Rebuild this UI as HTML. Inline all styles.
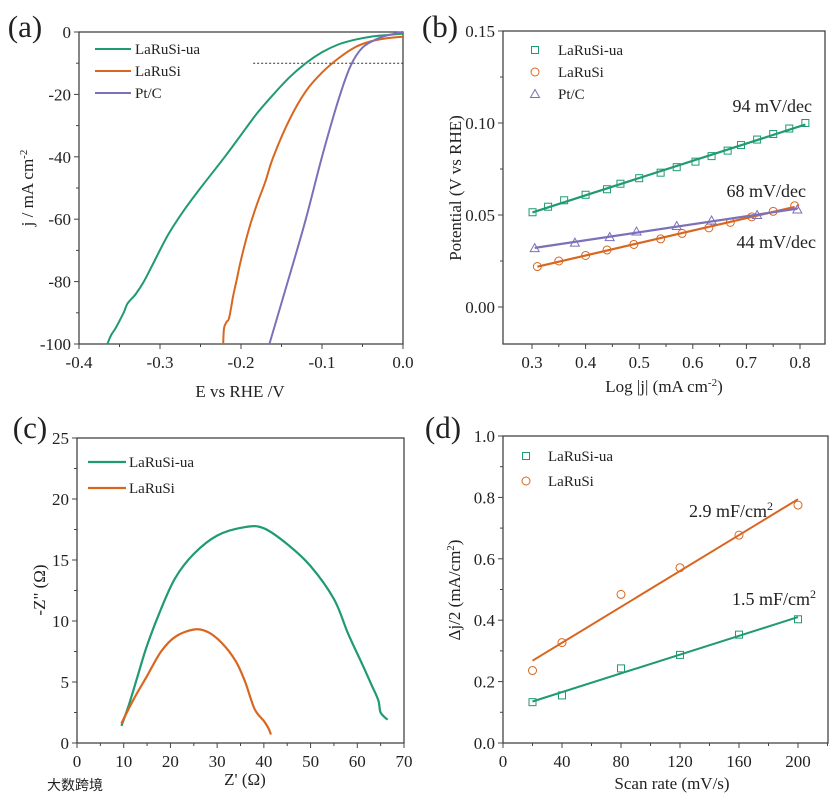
<!DOCTYPE html>
<html><head><meta charset="utf-8"><style>
body{margin:0;background:#fff;}
svg text{font-family:"Liberation Serif",serif;fill:#222;}
</style></head><body>
<svg id="s" width="839" height="800" xmlns="http://www.w3.org/2000/svg"></svg>
<script>
const GREEN='#1f9a72',ORANGE='#d9661f',PURPLE='#7d70b8';
// (a) LSV
const aE_ua=[-0.365,-0.36,-0.355,-0.345,-0.34,-0.33,-0.32,-0.31,-0.29,-0.27,-0.25,-0.22,-0.2,-0.18,-0.16,-0.14,-0.12,-0.1,-0.08,-0.06,-0.04,-0.02,0];
const aJ_ua=[-100,-97,-95,-90,-87,-84,-80,-75,-65,-57,-50,-40,-33,-26,-20,-14.5,-10,-6.5,-4,-2.5,-1.5,-1,-0.5];
const aE_si=[-0.222,-0.221,-0.218,-0.215,-0.212,-0.21,-0.205,-0.2,-0.19,-0.18,-0.17,-0.16,-0.14,-0.12,-0.1,-0.08,-0.06,-0.04,-0.02,0];
const aJ_si=[-100,-95,-93,-92,-88,-85,-79,-73,-63,-55,-48,-40,-28,-19,-13,-8.5,-5,-3,-2,-1.5];
const aE_pt=[-0.165,-0.14,-0.12,-0.1,-0.08,-0.065,-0.05,-0.03,-0.01,0];
const aJ_pt=[-100,-78,-60,-40,-22,-11,-5,-2,-0.5,0];
// (b) Tafel
const bX_ua=[0.301,0.33,0.36,0.4,0.44,0.465,0.5,0.54,0.57,0.605,0.635,0.665,0.69,0.72,0.75,0.78,0.81];
const bY_ua=[0.0515,0.0545,0.058,0.061,0.064,0.067,0.07,0.073,0.076,0.079,0.082,0.085,0.088,0.091,0.094,0.097,0.1];
const bX_si=[0.31,0.35,0.4,0.44,0.49,0.54,0.58,0.63,0.67,0.71,0.75,0.79];
const bY_si=[0.022,0.025,0.028,0.031,0.034,0.037,0.040,0.043,0.046,0.049,0.052,0.055];
const bX_pt=[0.305,0.38,0.445,0.495,0.57,0.635,0.72,0.795];
const bY_pt=[0.032,0.035,0.038,0.041,0.044,0.047,0.050,0.053];
// (c) EIS
const cX_ua=[9.5,11,13,15,18,21,25,30,36,40,45,50,55,58,61,63,64.5,65,66.5];
const cY_ua=[1.4,3,5.5,8,11,13.5,15.5,17,17.7,17.6,16.3,14.5,11.8,9,6.5,4.8,3.5,2.5,1.9];
const cX_si=[9.5,12,15,18,21,25,28,31,34,36,38,40,41,41.5];
const cY_si=[1.6,3.5,5.5,7.5,8.7,9.3,9.1,8.2,6.7,5,2.8,1.8,1.2,0.7];
// (d) Cdl
const dX=[20,40,80,120,160,200];
const dY_ua=[0.133,0.155,0.243,0.287,0.353,0.403];
const dY_si=[0.236,0.327,0.484,0.571,0.677,0.775];

const S=document.getElementById('s');const NS='http://www.w3.org/2000/svg';
function el(t,a,p){const e=document.createElementNS(NS,t);for(const k in a)e.setAttribute(k,a[k]);(p||S).appendChild(e);return e;}
function txt(x,y,s,o,p){const e=el('text',Object.assign({x:x,y:y,'font-size':17,'text-anchor':'middle'},o||{}),p);e.innerHTML=s;return e;}
function lin(d0,d1,r0,r1){return v=>r0+(v-d0)*(r1-r0)/(d1-d0);}
function fit(xs,ys){const n=xs.length;let mx=0,my=0;for(let i=0;i<n;i++){mx+=xs[i];my+=ys[i];}mx/=n;my/=n;let a=0,b=0;for(let i=0;i<n;i++){a+=(xs[i]-mx)*(ys[i]-my);b+=(xs[i]-mx)**2;}const k=a/b;return x=>my+k*(x-mx);}
function panel(name,L,R,T,B,X,Y,xt,yt,xminor,yminor,xfmt,yfmt){
  const g=el('g',{});  
  el('rect',{x:L,y:T,width:R-L,height:B-T,fill:'none',stroke:'#444','stroke-width':1.3},g);
  xt.forEach(v=>{el('line',{x1:X(v),x2:X(v),y1:B,y2:B+5,stroke:'#444'},g);txt(X(v),B+24,xfmt(v),{},g);});
  xminor.forEach(v=>el('line',{x1:X(v),x2:X(v),y1:B,y2:B+3,stroke:'#444'},g));
  yt.forEach(v=>{el('line',{x1:L-5,x2:L,y1:Y(v),y2:Y(v),stroke:'#444'},g);txt(L-8,Y(v)+6,yfmt(v),{'text-anchor':'end'},g);});
  yminor.forEach(v=>el('line',{x1:L-3,x2:L,y1:Y(v),y2:Y(v),stroke:'#444'},g));
  return g;}
function path(g,xs,ys,X,Y,c,w,name,smooth){
  const P=xs.map((x,i)=>[X(x),Y(ys[i])]);let d='M'+P[0][0].toFixed(1)+','+P[0][1].toFixed(1);
  for(let i=1;i<P.length;i++){
    if(smooth){const p0=P[Math.max(0,i-2)],p1=P[i-1],p2=P[i],p3=P[Math.min(P.length-1,i+1)];
      const c1=[p1[0]+(p2[0]-p0[0])/6,p1[1]+(p2[1]-p0[1])/6],c2=[p2[0]-(p3[0]-p1[0])/6,p2[1]-(p3[1]-p1[1])/6];
      d+=`C${c1[0].toFixed(1)},${c1[1].toFixed(1)} ${c2[0].toFixed(1)},${c2[1].toFixed(1)} ${p2[0].toFixed(1)},${p2[1].toFixed(1)}`;}
    else d+='L'+P[i][0].toFixed(1)+','+P[i][1].toFixed(1);}
  const p=el('path',{d:d,fill:'none',stroke:c,'stroke-width':w||2,'stroke-linejoin':'round'},g);return p;}
function marker(g,type,x,y,c){let m;if(type==='sq')m=el('rect',{x:x-3.5,y:y-3.5,width:7,height:7,fill:'none',stroke:c,'stroke-width':1},g);
 else if(type==='ci')m=el('circle',{cx:x,cy:y,r:4,fill:'none',stroke:c,'stroke-width':1},g);
 else m=el('path',{d:`M${x},${y-4.5}L${x+4.5},${y+3.5}L${x-4.5},${y+3.5}Z`,fill:'none',stroke:c,'stroke-width':1},g);
 return m;}
const r=(a,b,s)=>{const o=[];for(let v=a;v<=b+1e-9;v+=s)o.push(+v.toFixed(4));return o;};

// Panel a
{const X=lin(-0.4,0,79,403),Y=lin(0,-100,32,344);
const g=panel('panel-a-lsv',79,403,32,344,X,Y,[-0.4,-0.3,-0.2,-0.1,0],[0,-20,-40,-60,-80,-100],r(-0.35,-0.05,0.1),r(-90,-10,20),v=>v.toFixed(1),v=>v);
el('line',{x1:X(-0.185),x2:X(0),y1:Y(-10),y2:Y(-10),stroke:'#333','stroke-dasharray':'2,2','stroke-width':1},g);
path(g,aE_ua,aJ_ua,X,Y,GREEN,2,'lsv-larusi-ua',true);path(g,aE_si,aJ_si,X,Y,ORANGE,2,'lsv-larusi',true);path(g,aE_pt,aJ_pt,X,Y,PURPLE,2,'lsv-ptc',true);
[['LaRuSi-ua',GREEN],['LaRuSi',ORANGE],['Pt/C',PURPLE]].forEach((l,i)=>{const y=49+i*22;el('line',{x1:95,x2:131,y1:y,y2:y,stroke:l[1],'stroke-width':2},g);txt(135,y+5,l[0],{'text-anchor':'start','font-size':15},g);});
txt(240,397,'E vs RHE /V',{},g);
txt(0,0,'j / mA cm<tspan dy="-6" font-size="11">-2</tspan>',{transform:'translate(33,188) rotate(-90)'},g);
txt(25,37,'(a)',{'font-size':31},g);}

// Panel b
{const X=lin(0.3,0.8,532,800),Y=lin(0,0.15,307,31);
const g=panel('panel-b-tafel',503,825,31,344,X,Y,[0.3,0.4,0.5,0.6,0.7,0.8],[0,0.05,0.1,0.15],r(0.35,0.75,0.1),[0.025,0.075,0.125],v=>v.toFixed(1),v=>v.toFixed(2));
[[bX_ua,bY_ua,GREEN,'sq','fit-larusi-ua'],[bX_si,bY_si,ORANGE,'ci','fit-larusi'],[bX_pt,bY_pt,PURPLE,'tr','fit-ptc']].forEach(s=>{
 s[0].forEach((x,i)=>marker(g,s[3],X(x),Y(s[1][i]),s[2]));
 const f=fit(s[0],s[1]);const x0=s[0][0],x1=s[0][s[0].length-1];path(g,[x0,x1],[f(x0),f(x1)],X,Y,s[2],2.2,s[4]);});
[['LaRuSi-ua',GREEN,'sq'],['LaRuSi',ORANGE,'ci'],['Pt/C',PURPLE,'tr']].forEach((l,i)=>{const y=50+i*22;marker(g,l[2],535,y,l[1]);txt(558,y+5,l[0],{'text-anchor':'start','font-size':15},g);});
txt(812,112,'94 mV/dec',{'text-anchor':'end','font-size':18,fill:GREEN},g);
txt(806,197,'68 mV/dec',{'text-anchor':'end','font-size':18,fill:ORANGE},g);
txt(816,248,'44 mV/dec',{'text-anchor':'end','font-size':18,fill:PURPLE},g);
txt(664,392,'Log |j| (mA cm<tspan dy="-6" font-size="11">-2</tspan><tspan dy="6">)</tspan>',{},g);
txt(0,0,'Potential (V vs RHE)',{transform:'translate(461,188) rotate(-90)'},g);
txt(440,37,'(b)',{'font-size':31},g);}

// Panel c
{const X=lin(0,70,77,404),Y=lin(0,25,743,438);
const g=panel('panel-c-eis',77,404,438,743,X,Y,r(0,70,10),r(0,25,5),r(5,65,10),r(2.5,22.5,5),v=>v,v=>v);
path(g,cX_ua,cY_ua,X,Y,GREEN,2.2,'eis-larusi-ua',true);path(g,cX_si,cY_si,X,Y,ORANGE,2.2,'eis-larusi',true);
[['LaRuSi-ua',GREEN],['LaRuSi',ORANGE]].forEach((l,i)=>{const y=462+i*26;el('line',{x1:88,x2:126,y1:y,y2:y,stroke:l[1],'stroke-width':2.2},g);txt(129,y+5,l[0],{'text-anchor':'start','font-size':15},g);});
txt(245,785,'Z\' (Ω)',{},g);
txt(0,0,'-Z" (Ω)',{transform:'translate(45,590) rotate(-90)'},g);
txt(30,438,'(c)',{'font-size':31},g);
txt(75,790,'大数跨境',{'font-size':14,fill:'#d0d0d0','font-family':'"Liberation Sans","Noto Sans CJK SC",sans-serif'},g);}

// Panel d
{const X=lin(0,200,503,798),Y=lin(0,1,743,436);
const g=panel('panel-d-cdl',503,828,436,743,X,Y,[0,40,80,120,160,200],r(0,1,0.2),r(20,220,40),r(0.1,0.9,0.2),v=>v,v=>v.toFixed(1));
[[dY_ua,GREEN,'sq','fit-larusi-ua'],[dY_si,ORANGE,'ci','fit-larusi']].forEach(s=>{
 dX.forEach((x,i)=>marker(g,s[2],X(x),Y(s[0][i]),s[1]));
 const f=fit(dX,s[0]);path(g,[20,200],[f(20),f(200)],X,Y,s[1],2,s[3]);});
[['LaRuSi-ua',GREEN,'sq'],['LaRuSi',ORANGE,'ci']].forEach((l,i)=>{const y=456+i*25;marker(g,l[2],526,y,l[1]);txt(548,y+5,l[0],{'text-anchor':'start','font-size':15},g);});
txt(689,517,'2.9 mF/cm<tspan dy="-7" font-size="12">2</tspan>',{'text-anchor':'start','font-size':18,fill:ORANGE},g);
txt(732,605,'1.5 mF/cm<tspan dy="-7" font-size="12">2</tspan>',{'text-anchor':'start','font-size':18,fill:GREEN},g);
txt(672,789,'Scan rate (mV/s)',{},g);
txt(0,0,'Δj/2 (mA/cm<tspan dy="-6" font-size="11">2</tspan><tspan dy="6">)</tspan>',{transform:'translate(460,590) rotate(-90)'},g);
txt(443,438,'(d)',{'font-size':31},g);}
</script>
</body></html>
